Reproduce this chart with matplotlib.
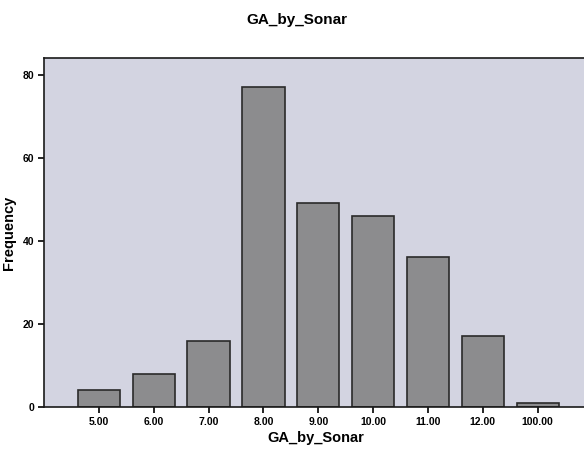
import matplotlib
matplotlib.use('Agg')
import matplotlib.pyplot as plt
import numpy as np

plt.rcParams['font.family'] = ['Liberation Sans', 'DejaVu Sans']

# Data
categories = ['5.00', '6.00', '7.00', '8.00', '9.00', '10.00', '11.00', '12.00', '100.00']
frequencies = [4, 8, 16, 77, 49, 46, 36, 17, 1]
y_ticks = [0, 20, 40, 60, 80]

fig = plt.figure(figsize=(5.84, 4.5), dpi=100)
ax = fig.add_axes([0.0753, 0.0956, 0.93, 0.7756])
ax.set_facecolor('#d3d4e1')

x = np.arange(len(categories))
ax.bar(x, frequencies, width=0.77, color='#8c8c8e', edgecolor='#2a2a2a', linewidth=1.2)

ax.set_xlim(-1, 8.9)
ax.set_ylim(0, 84)
ax.set_xticks(x)
ax.set_xticklabels(categories, fontsize=7.5, fontweight='bold')
ax.set_yticks(y_ticks)
ax.set_yticklabels([str(t) for t in y_ticks], fontsize=7.5, fontweight='bold')
ax.tick_params(direction='out', length=4, width=1.2, pad=3)

for side in ['left', 'bottom', 'top']:
    ax.spines[side].set_linewidth(1.2)
    ax.spines[side].set_color('#1a1a1a')
ax.spines['right'].set_visible(False)

ax.set_xlabel('GA_by_Sonar', fontsize=10.5, fontweight='bold', labelpad=3)
ax.set_ylabel('Frequency', fontsize=10.5, fontweight='bold', labelpad=5)
fig.text(0.508, 0.955, 'GA_by_Sonar', ha='center', va='center',
         fontsize=11, fontweight='bold')

plt.savefig('out.png', dpi=100, facecolor='white')
